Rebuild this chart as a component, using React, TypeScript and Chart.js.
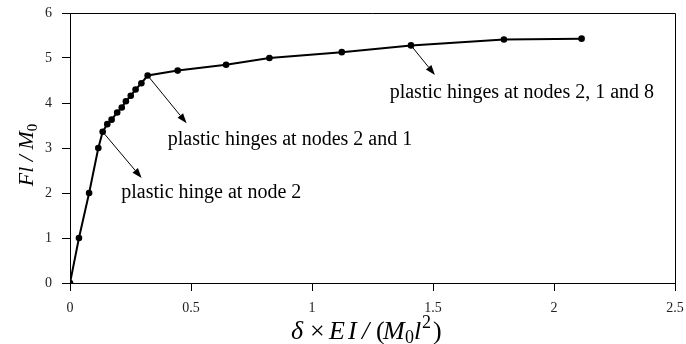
import React, { useEffect, useRef } from "react";
import { Chart, registerables } from "chart.js";

Chart.register(...registerables);

// Load factor vs. normalized deflection
const deflection = [0, 0.037, 0.079, 0.117, 0.135, 0.154, 0.172, 0.195, 0.214, 0.231, 0.251, 0.271, 0.295, 0.321, 0.445, 0.645, 0.824, 1.123, 1.409, 1.793, 2.114];
const loadFactor = [0, 1, 2, 3, 3.36, 3.53, 3.63, 3.79, 3.9, 4.04, 4.16, 4.3, 4.44, 4.61, 4.72, 4.85, 5.0, 5.13, 5.28, 5.41, 5.43];

const xTicks = [0, 0.5, 1, 1.5, 2, 2.5];
const yTicks = [0, 1, 2, 3, 4, 5, 6];

// annotations: arrow from data point index to (toX, toY), label at (labelX, labelY) in data units
const annotationLabels = ["plastic hinge at node 2", "plastic hinges at nodes 2 and 1", "plastic hinges at nodes 2, 1 and 8"];
const annotationFrom = [4, 13, 18];
const annotationToX = [0.296, 0.482, 1.508];
const annotationToY = [2.333, 3.549, 4.622];
const annotationLabelX = [0.212, 0.404, 1.321];
const annotationLabelY = [1.889, 3.067, 4.111];

const SERIF = '"Liberation Serif", "Times New Roman", serif';

type Seg = { t: string; f: string; dx: number; dy: number };

// draws glyph groups at offsets relative to a start point
function drawPlaced(ctx: CanvasRenderingContext2D, segs: Seg[], x0: number, baseY: number) {
  ctx.textAlign = "left";
  ctx.textBaseline = "alphabetic";
  for (const s of segs) {
    ctx.font = s.f;
    ctx.fillText(s.t, x0 + s.dx, baseY + s.dy);
  }
}

type FSeg = { t: string; f: string; dy: number };
function drawSegs(ctx: CanvasRenderingContext2D, segs: FSeg[], cx: number, baseY: number) {
  let total = 0;
  for (const s of segs) {
    ctx.font = s.f;
    total += ctx.measureText(s.t).width;
  }
  let x = cx - total / 2;
  ctx.textAlign = "left";
  ctx.textBaseline = "alphabetic";
  for (const s of segs) {
    ctx.font = s.f;
    ctx.fillText(s.t, x, baseY + s.dy);
    x += ctx.measureText(s.t).width;
  }
}

const overlayPlugin = {
  id: "overlay",
  afterDraw(chart: any) {
    const ctx: CanvasRenderingContext2D = chart.ctx;
    const xs = chart.scales.x;
    const ys = chart.scales.y;
    const area = chart.chartArea;
    ctx.save();
    // box: top and right
    ctx.strokeStyle = "#000";
    ctx.lineWidth = 1;
    ctx.beginPath();
    ctx.moveTo(area.left, Math.round(area.top) + 0.5);
    ctx.lineTo(Math.round(area.right) + 0.5, Math.round(area.top) + 0.5);
    ctx.lineTo(Math.round(area.right) + 0.5, area.bottom);
    ctx.stroke();

    // arrows + labels
    ctx.fillStyle = "#000";
    for (let i = 0; i < annotationLabels.length; i++) {
      const k = annotationFrom[i];
      const x0 = xs.getPixelForValue(deflection[k]);
      const y0 = ys.getPixelForValue(loadFactor[k]);
      const x1 = xs.getPixelForValue(annotationToX[i]);
      const y1 = ys.getPixelForValue(annotationToY[i]);
      const ang = Math.atan2(y1 - y0, x1 - x0);
      const hl = 10, hw = 3.5;
      const bx = x1 - hl * Math.cos(ang);
      const by = y1 - hl * Math.sin(ang);
      ctx.lineWidth = 1;
      ctx.beginPath();
      ctx.moveTo(x0, y0);
      ctx.lineTo(bx, by);
      ctx.stroke();
      ctx.beginPath();
      ctx.moveTo(x1, y1);
      ctx.lineTo(bx + hw * Math.sin(ang), by - hw * Math.cos(ang));
      ctx.lineTo(bx - hw * Math.sin(ang), by + hw * Math.cos(ang));
      ctx.closePath();
      ctx.fill();

      ctx.font = `20px ${SERIF}`;
      ctx.textAlign = "left";
      ctx.textBaseline = "alphabetic";
      ctx.fillText(annotationLabels[i], xs.getPixelForValue(annotationLabelX[i]), ys.getPixelForValue(annotationLabelY[i]));
    }

    // x axis title
    const it = `italic 26px ${SERIF}`;
    const rm = `26px ${SERIF}`;
    const sub = `18px ${SERIF}`;
    drawPlaced(ctx, [
      { t: "δ", f: it, dx: 1, dy: 0 },
      { t: "×", f: rm, dx: 20, dy: 0 },
      { t: "E", f: it, dx: 39, dy: 0 },
      { t: "I", f: it, dx: 58, dy: 0 },
      { t: "/", f: it, dx: 72, dy: 0 },
      { t: "(", f: rm, dx: 86, dy: 0 },
      { t: "M", f: it, dx: 93, dy: 0 },
      { t: "0", f: sub, dx: 115, dy: 4 },
      { t: "l", f: it, dx: 124, dy: 0 },
      { t: "2", f: sub, dx: 132, dy: -11 },
      { t: ")", f: rm, dx: 143, dy: 0 },
    ], 290, 339);

    // y axis title
    const it2 = `italic 22px ${SERIF}`;
    const sub2 = `15px ${SERIF}`;
    ctx.save();
    ctx.translate(33, 155);
    ctx.rotate(-Math.PI / 2);
    drawSegs(ctx, [
      { t: "Fl", f: it2, dy: 0 },
      { t: " / ", f: it2, dy: 0 },
      { t: "M", f: it2, dy: 0 },
      { t: "0", f: sub2, dy: 4 },
    ], 0, 0);
    ctx.restore();
    ctx.restore();
  },
};

export default function App() {
  const ref = useRef<HTMLCanvasElement | null>(null);
  useEffect(() => {
    document.body.style.margin = "0";
    const canvas = ref.current!;
    const chart = new Chart(canvas, {
      type: "line",
      data: {
        datasets: [
          {
            data: deflection.map((x, i) => ({ x, y: loadFactor[i] })),
            borderColor: "#000",
            backgroundColor: "#000",
            borderWidth: 2,
            pointRadius: 3.3,
            pointBackgroundColor: "#000",
            pointBorderWidth: 0,
            tension: 0,
          },
        ],
      },
      options: {
        animation: false,
        responsive: false,
        maintainAspectRatio: false,
        layout: { padding: { top: 13, right: 11, left: 0, bottom: 0 } },
        plugins: { legend: { display: false }, tooltip: { enabled: false } },
        scales: {
          x: {
            type: "linear",
            min: 0,
            max: 2.5,
            afterBuildTicks: (s: any) => { s.ticks = xTicks.map((v) => ({ value: v })); },
            afterFit: (s: any) => { s.height = 61; s.paddingLeft = 0; s.paddingRight = 0; },
            grid: { drawOnChartArea: false, drawTicks: true, tickLength: 8, color: "#000" },
            border: { display: true, color: "#000", width: 1 },
            ticks: { color: "#222", font: { family: SERIF, size: 14 }, padding: 9, maxRotation: 0, callback: (v: any) => String(v) },
          },
          y: {
            type: "linear",
            min: 0,
            max: 6,
            afterBuildTicks: (s: any) => { s.ticks = yTicks.map((v) => ({ value: v })); },
            afterFit: (s: any) => { s.width = 70; s.paddingTop = 0; s.paddingBottom = 0; },
            grid: { drawOnChartArea: false, drawTicks: true, tickLength: 8, color: "#000" },
            border: { display: true, color: "#000", width: 1 },
            ticks: { color: "#222", font: { family: SERIF, size: 14 }, padding: 10, callback: (v: any) => String(v) },
          },
        },
      },
      plugins: [overlayPlugin],
    });
    return () => chart.destroy();
  }, []);
  return (
    <div style={{ width: 686, height: 344 }}>
      <canvas ref={ref} width={686} height={344} style={{ display: "block" }} />
    </div>
  );
}
